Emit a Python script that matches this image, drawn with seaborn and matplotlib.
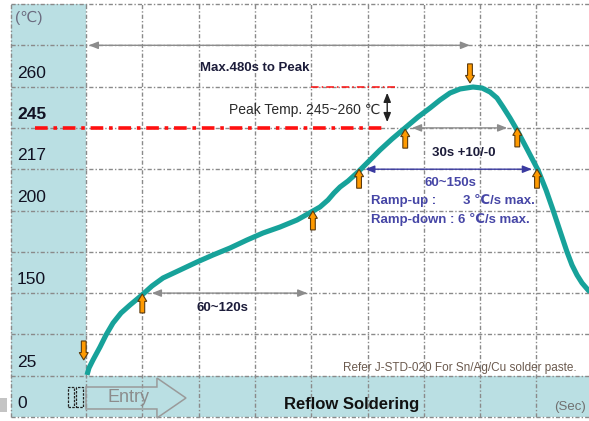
import matplotlib
matplotlib.use("Agg")
import matplotlib.pyplot as plt
from matplotlib.patches import Rectangle, Polygon, FancyArrow
import seaborn as sns
import pandas as pd

sns.set_style("white")
plt.rcParams['font.family'] = ['Liberation Sans', 'DejaVu Sans']

# ---- data (schematic grid units: 1 column / 1 row per unit) ----
time_pos = [0.018, 0.053, 0.124, 0.249, 0.355, 0.480, 0.622, 0.782, 0.995, 1.172, 1.368,
            1.670, 1.972, 2.256, 2.558, 2.860, 3.144, 3.446, 3.748, 4.032, 4.156, 4.298,
            4.405, 4.512, 4.654, 4.831, 5.027, 5.222, 5.435, 5.666, 5.897, 6.110, 6.288,
            6.465, 6.643, 6.874, 7.034, 7.176, 7.300, 7.407, 7.531, 7.655, 7.833, 8.028,
            8.171, 8.295, 8.419, 8.544, 8.632, 8.721, 8.810, 8.917, 8.95]
temp_pos = [1.017, 1.186, 1.380, 1.695, 1.985, 2.276, 2.518, 2.712, 2.954, 3.172, 3.366,
            3.559, 3.753, 3.923, 4.092, 4.286, 4.455, 4.600, 4.770, 4.988, 5.085, 5.254,
            5.424, 5.569, 5.714, 5.932, 6.199, 6.465, 6.731, 6.998, 7.264, 7.482, 7.676,
            7.845, 7.942, 7.990, 7.966, 7.869, 7.724, 7.506, 7.240, 6.949, 6.489, 5.981,
            5.496, 5.012, 4.504, 3.995, 3.680, 3.438, 3.245, 3.075, 3.03]
ytick_labels = ["0", "25", "150", "200", "217", "245", "260"]
ytick_rows = [0, 1, 3, 5, 6, 7, 8]
up_arrow_x = [1.0, 4.03, 4.85, 5.67, 7.66, 8.01]
up_arrow_tip = [2.98, 4.99, 6.0, 6.97, 7.0, 6.0]
down_arrow_x = [6.82, -0.04]
down_arrow_tip = [8.09, 1.38]

CYAN = "#badfe3"
TEAL = "#17a29a"
GRID = "#8a8a8a"
NAVY = "#1c1c3a"
PURP = "#4646a6"

fig = plt.figure(figsize=(5.89, 4.21), dpi=100)
ax = fig.add_axes([0, 0, 1, 1])
XL, XR = -1.5275, 8.934
YB, YT = -0.097, 10.097

LEFT = -1.332
# cyan panels
ax.add_patch(Rectangle((LEFT, 0), -LEFT, 10, facecolor=CYAN, edgecolor="none", zorder=0))
ax.add_patch(Rectangle((LEFT, 0), XR - LEFT, 1, facecolor=CYAN, edgecolor="none", zorder=0))
ax.add_patch(Rectangle((XL, 0.12), 0.125, 0.34, facecolor="#c4c4c4", edgecolor="none", zorder=0))

# grid
ls = (0, (3, 1.5, 1, 1.5))
for r in range(0, 11):
    ax.plot([LEFT, XR], [r, r], color=GRID, lw=1, ls=ls, zorder=1)
for c in [LEFT] + list(range(0, 9)):
    ax.plot([c, c], [0, 10], color=GRID, lw=1, ls=ls, zorder=1)

# curve
df = pd.DataFrame({"t": time_pos, "T": temp_pos})
sns.lineplot(data=df, x="t", y="T", sort=False, estimator=None, color=TEAL, lw=3.7,
             ax=ax, zorder=3, solid_capstyle="butt", solid_joinstyle="round")
ax.set_xlim(XL, XR)
ax.set_ylim(YB, YT)
ax.axis("off")

# red dash-dot lines
ax.plot([-0.906, 5.31], [7, 7], color="#ff1010", lw=2.6, ls=(0, (3.5, 1.6, 1, 1.6)), zorder=2)
ax.plot([4.0, 5.49], [8, 8], color="#ff1010", lw=1.1, ls=(0, (5, 2, 1, 2)), zorder=2)

# y labels
for lab, r in zip(ytick_labels, ytick_rows):
    ax.text(-1.225, r + 0.32, lab, ha="left", va="center", fontsize=12.5,
            fontweight="bold" if lab == "245" else "normal", color="#111122", zorder=5)
ax.text(-1.01, 9.66, "(℃)", ha="center", va="center", fontsize=11, color="#6c6c80")

def darrow(x0, y0, x1, y1, color, lw=1.0):
    ax.annotate("", xy=(x1, y1), xytext=(x0, y0),
                arrowprops=dict(arrowstyle="<|-|>,head_length=0.55,head_width=0.22",
                                color=color, lw=lw, shrinkA=0, shrinkB=0,
                                mutation_scale=10), zorder=4)

darrow(0.05, 9.0, 6.82, 9.0, "#8c8c8c")
darrow(1.17, 3.0, 3.93, 3.0, "#8c8c8c")
darrow(5.79, 7.0, 7.48, 7.0, "#8c8c8c")
darrow(4.96, 6.0, 7.92, 6.0, "#3a3aa0")
darrow(5.35, 7.14, 5.35, 7.85, "#222222")

# orange arrows
L, W, HW, HL = 0.46, 0.085, 0.16, 0.18
for x, tip in zip(up_arrow_x, up_arrow_tip):
    ax.add_patch(FancyArrow(x, tip - L, 0, L, width=W, head_width=HW, head_length=HL,
                            length_includes_head=True, facecolor="#ff9a00",
                            edgecolor="#5a3a10", lw=0.8, zorder=6))
for x, tip in zip(down_arrow_x, down_arrow_tip):
    ax.add_patch(FancyArrow(x, tip + L, 0, -L, width=W, head_width=HW, head_length=HL,
                            length_includes_head=True, facecolor="#ff9a00",
                            edgecolor="#5a3a10", lw=0.8, zorder=6))

# texts
ax.text(2.025, 8.45, "Max.480s to Peak", ha="left", va="center", fontsize=9.5,
        fontweight="bold", color=NAVY)
ax.text(2.54, 7.43, "Peak Temp. 245~260 ℃", ha="left", va="center", fontsize=10,
        color="#2a2a2a")
ax.text(1.97, 2.64, "60~120s", ha="left", va="center", fontsize=9.5,
        fontweight="bold", color=NAVY)
ax.text(6.15, 6.39, "30s +10/-0", ha="left", va="center", fontsize=9.5,
        fontweight="bold", color=NAVY)
ax.text(6.47, 5.67, "60~150s", ha="center", va="center", fontsize=9.5,
        fontweight="bold", color=PURP)
ax.text(5.06, 5.23, "Ramp-up :", ha="left", va="center", fontsize=9.5,
        fontweight="bold", color=PURP)
ax.text(7.97, 5.23, "3 ℃/s max.", ha="right", va="center", fontsize=9.5,
        fontweight="bold", color=PURP)
ax.text(5.06, 4.79, "Ramp-down : 6 ℃/s max.", ha="left", va="center", fontsize=9.5,
        fontweight="bold", color=PURP)
ax.text(4.565, 1.19, "Refer J-STD-020 For Sn/Ag/Cu solder paste.", ha="left",
        va="center", fontsize=8.5, color="#6b5a4e")
ax.text(3.52, 0.31, "Reflow Soldering", ha="left", va="center", fontsize=12,
        fontweight="bold", color="#111111")
ax.text(8.31, 0.24, "(Sec)", ha="left", va="center", fontsize=9.5, color="#707070")

# Entry block arrow
ax.add_patch(Polygon([(0, 0.726), (1.26, 0.726), (1.26, 0.944), (1.776, 0.46),
                      (1.26, -0.024), (1.26, 0.194), (0, 0.194)], closed=True,
                     facecolor="none", edgecolor="#9a9a9a", lw=1.1, zorder=4))
ax.text(0.75, 0.46, "Entry", ha="center", va="center", fontsize=13, color="#8c8c8c", zorder=5)
for x0, x1 in [(-0.32, -0.213), (-0.178, -0.053)]:
    ax.add_patch(Rectangle((x0, 0.242), x1 - x0, 0.484, facecolor="none",
                           edgecolor="#222222", lw=0.9, ls=(0, (2, 1)), zorder=5))

fig.savefig("out.png", dpi=100)
